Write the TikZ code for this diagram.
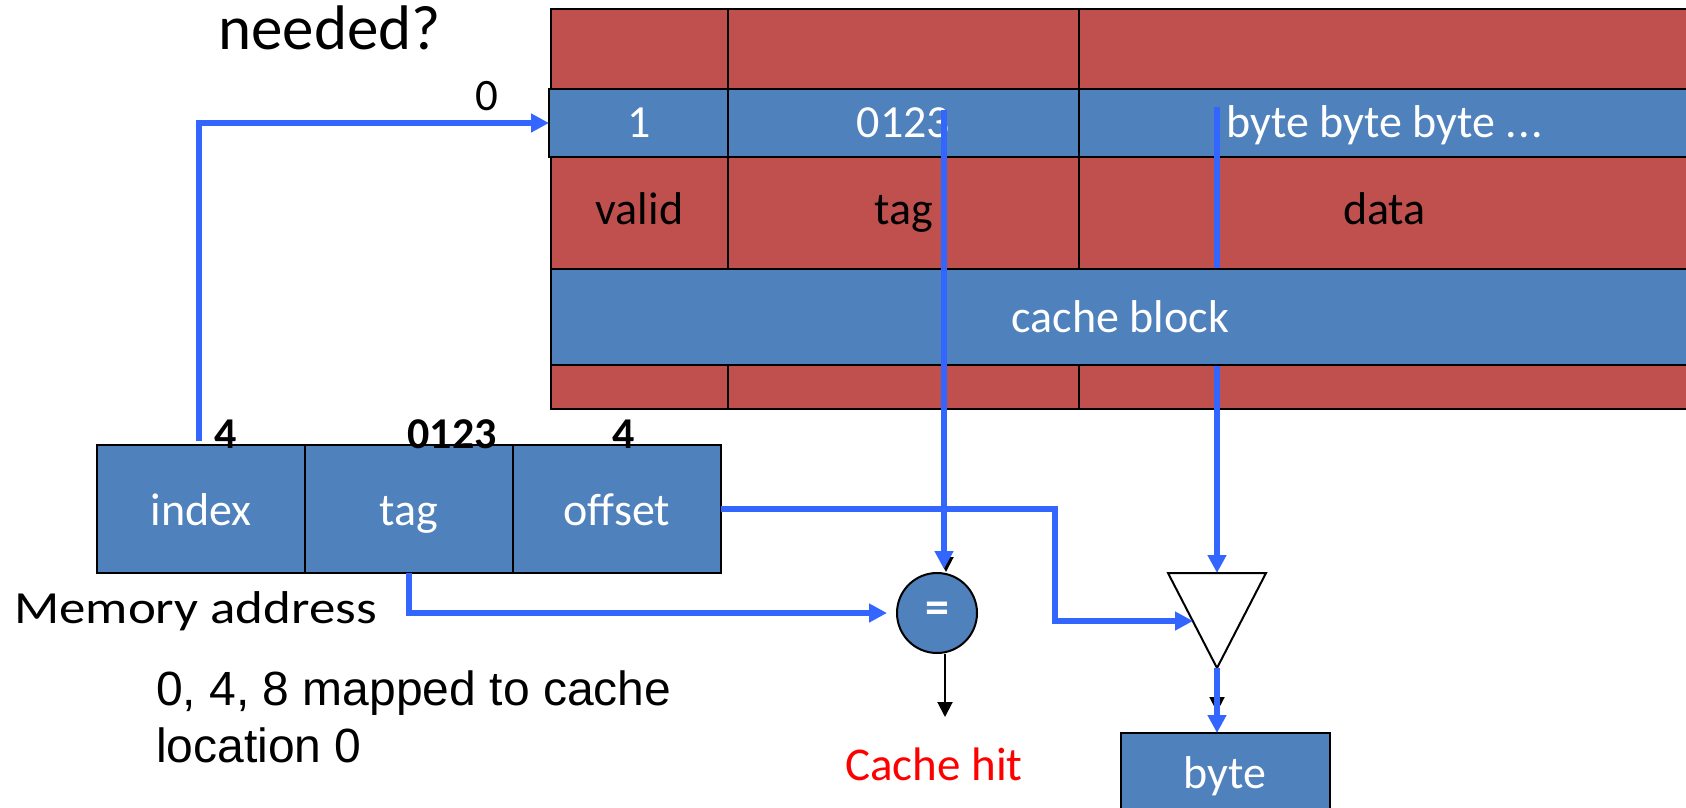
\documentclass[tikz,border=0pt]{standalone}
\usepackage{graphicx}
\usepackage{fontspec}
\setmainfont{Carlito}
\newfontfamily\arialf{Liberation Sans}
\usetikzlibrary{arrows.meta,calc}
\definecolor{cred}{HTML}{C0504D}
\definecolor{cblue}{HTML}{4F81BD}
\definecolor{conn}{RGB}{51,102,255}
\begin{document}
\begin{tikzpicture}[x=1pt,y=-1pt,
  cell/.style={draw=black, line width=2pt, inner sep=0pt, outer sep=0pt},
  redcell/.style={cell, fill=cred},
  bluecell/.style={cell, fill=cblue},
  lbl/.style={font=\fontsize{46}{46}\selectfont, anchor=base, inner sep=0pt},
  wlbl/.style={lbl, text=white},
  bnum/.style={font=\fontsize{44}{44}\selectfont\bfseries, anchor=base, inner sep=0pt},
  wire/.style={draw=conn, line width=5.5pt, -{Triangle[length=18pt,width=18pt]}},
  blk/.style={draw=black, line width=2pt, -{Triangle[length=15pt,width=15pt]}},
]
\useasboundingbox (0,0) rectangle (1686,808);
\clip (0,0) rectangle (1686,808);

% cache table rows
\node[redcell, minimum width=177pt, minimum height=80pt] (r1a) at (639.5,49) {};
\node[redcell, minimum width=351pt, minimum height=80pt] (r1b) at (903.5,49) {};
\node[redcell, minimum width=611pt, minimum height=80pt] (r1c) at (1384.5,49) {};

\node[bluecell, minimum width=179pt, minimum height=68pt] (r2a) at (638.5,123) {};
\node[bluecell, minimum width=351pt, minimum height=68pt] (r2b) at (903.5,123) {};
\node[bluecell, minimum width=611pt, minimum height=68pt] (r2c) at (1384.5,123) {};

\node[redcell, minimum width=177pt, minimum height=112pt] (r3a) at (639.5,213) {};
\node[redcell, minimum width=351pt, minimum height=112pt] (r3b) at (903.5,213) {};
\node[redcell, minimum width=611pt, minimum height=112pt] (r3c) at (1384.5,213) {};

\node[redcell, minimum width=177pt, minimum height=44pt] (r5a) at (639.5,387) {};
\node[redcell, minimum width=351pt, minimum height=44pt] (r5b) at (903.5,387) {};
\node[redcell, minimum width=611pt, minimum height=44pt] (r5c) at (1384.5,387) {};

\node[wlbl] (t1) at (639.5,137) {1};
\node[wlbl] (t0123) at (903.5,137) {0123};
\node[wlbl] (tbytes) at (1384.5,137) {byte byte byte .\kern1pt.\kern1pt.};
\node[lbl] (tvalid) at (639.5,224) {valid};
\node[lbl] (ttag) at (903.5,224) {tag};
\node[lbl] (tdata) at (1384.5,224) {data};

% triangle (selector)
\coordinate (tl) at (1168,573);
\coordinate (tr) at (1266,573);
\coordinate (ta) at (1217,668);
\coordinate (tritop) at (1217,573);
\coordinate (triin) at (1193,621);

% data wire (behind the cache block row)
\coordinate (datasrc) at (1217,107);
\draw[wire] (datasrc) -- (tritop);

% cache block row
\node[bluecell, minimum width=1139pt, minimum height=96pt] (r4) at (1120.5,317) {};
\node[wlbl] (tcb) at (1120.5,332) {cache block};

% title fragment and index label
\node[font=\fontsize{63}{63}\selectfont, anchor=base, inner sep=0pt] (needed) at (329.5,50) {needed?};
\node[font=\fontsize{45}{45}\selectfont, anchor=base, inner sep=0pt] (zero) at (487,110) {0};

% memory address
\node[bluecell, minimum width=208pt, minimum height=128pt] (idx) at (201,509) {};
\node[bluecell, minimum width=208pt, minimum height=128pt] (tagm) at (409,509) {};
\node[bluecell, minimum width=208pt, minimum height=128pt] (offm) at (617,509) {};
\node[wlbl] (tidx) at (201,525) {index};
\node[wlbl] (ttagm) at (409,525) {tag};
\node[wlbl] (toff) at (617,525) {offset};
\node[bnum] (n4a) at (226,448) {4};
\node[bnum] (n0123) at (452,448) {0123};
\node[bnum] (n4b) at (624,448) {4};

\node[font=\fontsize{46}{46}\selectfont, anchor=base west, inner sep=0pt] (memaddr) at (14,623) {\scalebox{1.15}[1]{Memory address}};
\node[font=\arialf\fontsize{48}{48}\selectfont, anchor=base west, inner sep=0pt] (map1) at (156,705) {0, 4, 8 mapped to cache};
\node[font=\arialf\fontsize{48}{48}\selectfont, anchor=base west, inner sep=0pt] (map2) at (156,762) {location 0};

% comparator
\node[circle, draw=black, line width=2pt, fill=cblue, minimum size=80pt, inner sep=0pt,
      text=white, font=\fontsize{48}{48}\selectfont\bfseries] (eq) at (937,613) {=};
\coordinate (hitarr) at (945,717);
\node[font=\fontsize{47}{47}\selectfont, text=red, anchor=base, inner sep=0pt] (hit) at (934,780) {Cache hit};

% byte output
\node[bluecell, minimum width=209pt, minimum height=120pt, anchor=north] (byte) at (1225,733) {};
\node[wlbl] (tbyte) at (1225,788) {byte};

% triangle drawing
\draw[line width=2pt, fill=white, line join=miter] (tl) -- (tr) -- (ta) -- cycle;

% black connectors (mostly hidden)
\coordinate (tagblk) at (946,409);
\draw[blk] (tagblk) -- (tagblk |- eq.north);
\draw[blk] (eq.south -| hitarr) -- (hitarr);
\draw[blk, shorten >=21pt] (ta) -- (ta |- byte.north);

% blue connectors
\coordinate (tagsrc) at (944,110);
\draw[wire, shorten >=3pt] (tagsrc) -- (tagsrc |- eq.north);
\draw[wire] ($(idx.north)+(-2,-4)$) |- (r2a.west);
\draw[wire, shorten >=9pt] (tagm.south) |- (eq.west);
\draw[wire] (offm.east) -| (1055,565) |- (triin);
\draw[wire] (ta) -- (ta |- byte.north);
\end{tikzpicture}
\end{document}
